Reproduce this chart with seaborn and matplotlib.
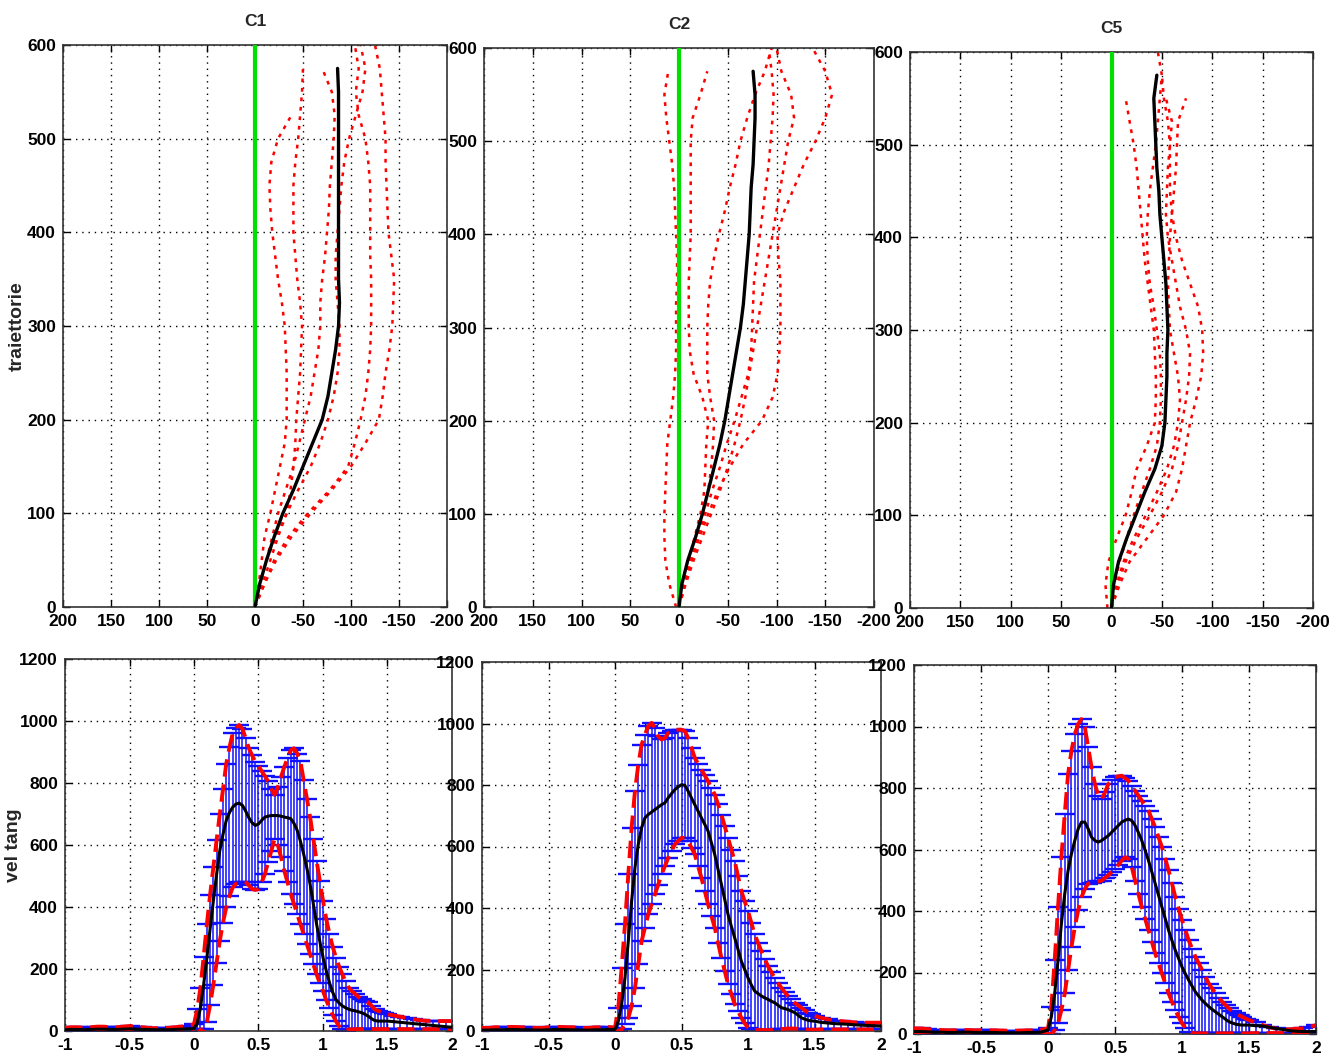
import numpy as np
import matplotlib
matplotlib.use("Agg")
import matplotlib.pyplot as plt
import seaborn as sns

sns.set_style("ticks")
plt.rcParams['font.family'] = ['Liberation Sans Narrow', 'Liberation Sans', 'DejaVu Sans']
plt.rcParams['font.weight'] = 'bold'
plt.rcParams['axes.unicode_minus'] = False

# ---- traiettorie: x (lateral) sampled at y = 0, 25, 50, ...
traj_y = np.arange(0, 601, 25)

c1_mean = [0, -5, -12, -20, -29, -40, -50, -60, -70, -76, -80, -84, -87, -88, -87, -87, -87,
           -87, -87, -87, -87, -87, -87, -86]
c1_trials = [
    [0, -4, -7, -10, -16, -21, -26, -31, -33, -33, -33, -32, -31, -28, -24, -21, -18, -16, -15, -17, -24, -38],
    [0, -5, -12, -22, -33, -37, -40, -42, -43, -45, -47, -48, -49, -47, -44, -42, -40, -40, -40, -42, -45, -47,
     -49, -50],
    [0, -6, -12, -18, -24, -32, -40, -46, -52, -58, -62, -66, -68, -68, -70, -73, -75, -77, -78, -80, -82, -83,
     -80, -70],
    [0, -8, -16, -24, -33, -45, -58, -68, -76, -82, -86, -88, -88, -86, -84, -84, -86, -88, -90, -93, -98, -105,
     -112, -115, -110],
    [0, -10, -20, -35, -55, -78, -97, -104, -110, -115, -118, -120, -121, -121, -121, -120, -120, -120, -120,
     -118, -115, -108, -105, -108, -104],
    [0, -10, -22, -38, -58, -80, -100, -115, -129, -133, -136, -140, -143, -144, -145, -142, -139, -138, -137,
     -136, -136, -134, -132, -130, -125],
]

c2_mean = [0, -3, -9, -17, -24, -30, -36, -42, -47, -51, -55, -59, -63, -66, -68, -70, -72, -73, -74, -76,
           -77, -78, -78, -76]
c2_trials = [
    [3, 10, 14, 15, 15, 14, 13, 12, 9, 6, 4, 3, 3, 3, 2, 2, 3, 4, 5, 7, 10, 13, 15, 11],
    [0, -4, -10, -16, -22, -26, -27, -28, -30, -24, -15, -11, -10, -10, -10, -11, -12, -12, -12, -12, -12, -14,
     -22, -29],
    [0, -5, -12, -19, -25, -30, -33, -35, -36, -32, -29, -29, -29, -30, -32, -36, -41, -47, -52, -58, -63, -70,
     -78, -88, -95],
    [0, -6, -13, -20, -27, -34, -42, -49, -57, -64, -71, -74, -75, -76, -77, -80, -83, -86, -89, -92, -94, -96,
     -97, -95, -92],
    [0, -6, -13, -21, -30, -40, -52, -66, -85, -96, -101, -103, -104, -104, -104, -102, -101, -108, -118, -128,
     -140, -150, -157, -150, -137],
    [0, -7, -15, -24, -33, -42, -50, -57, -63, -68, -72, -76, -80, -84, -88, -92, -96, -100, -104, -108, -112,
     -118, -115, -105, -100],
]

c5_mean = [0, -2, -7, -15, -24, -33, -43, -50, -53, -54, -55, -55, -56, -55, -54, -52, -50, -48, -47, -45,
           -44, -43, -42, -45]
c5_trials = [
    [4, 6, 3, -5, -14, -20, -25, -35, -43, -44, -44, -43, -42, -39, -36, -33, -31, -29, -27, -25, -22, -18, -14],
    [0, -5, -12, -22, -34, -45, -55, -62, -66, -68, -66, -62, -58, -57, -56, -57, -58, -60, -62, -64, -65, -66,
     -74],
    [0, -8, -18, -35, -52, -64, -70, -74, -78, -84, -89, -91, -90, -86, -78, -70, -64, -60, -58, -58, -58, -56,
     -52, -50],
    [0, -3, -8, -15, -22, -30, -38, -45, -48, -49, -49, -48, -45, -42, -38, -36, -35, -36, -38, -41, -44, -46,
     -48, -50, -46],
    [0, -6, -14, -25, -38, -50, -60, -66, -70, -74, -77, -78, -74, -68, -64, -60, -56, -54, -55, -56, -58, -60,
     -54],
]

# ---- vel tang: time samples
t = np.round(np.concatenate([np.arange(-1, -0.001, 0.05),
                             np.arange(0, 1.5001, 0.025),
                             np.arange(1.55, 2.0001, 0.05)]), 3)

v1_mean = ([4, 5, 5, 4, 5, 6, 6, 5, 5, 6, 7, 6, 5, 5, 4, 4, 4, 5, 6, 7] +
           [8, 25, 75, 150, 237, 330, 420, 505, 582, 635, 679, 705, 722, 732, 735, 728, 710, 688, 672, 663,
            668, 680, 690, 693, 695, 695, 695, 693, 690, 688, 685, 670, 647, 612, 571, 525, 474, 410, 345, 290,
            237, 195, 156, 125, 102, 90, 81, 75, 70, 67, 65, 62, 59, 54, 48, 40, 34, 32, 32, 32, 32] +
           [30, 28, 26, 24, 22, 20, 18, 16, 14, 12])
v1_up = ([10, 12, 12, 10, 12, 14, 14, 12, 12, 14, 16, 14, 12, 10, 9, 9, 10, 12, 14, 16] +
         [22, 70, 140, 240, 345, 440, 528, 615, 700, 780, 862, 915, 960, 978, 987, 975, 945, 912, 890, 868,
          855, 838, 822, 805, 780, 762, 787, 820, 852, 880, 906, 912, 895, 870, 809, 750, 690, 620, 550, 485,
          420, 362, 313, 272, 237, 208, 183, 160, 140, 128, 119, 110, 102, 97, 92, 82, 70, 65, 62, 58, 54] +
         [50, 46, 42, 38, 35, 33, 32, 32, 32, 32])
v1_low = ([0, 0, 0, 0, 0, 0, 0, 0, 0, 0, 0, 0, 0, 0, 0, 0, 0, 0, 0, 0] +
          [-5, -15, 5, 5, 30, 85, 150, 220, 291, 350, 399, 435, 463, 475, 480, 482, 480, 470, 458, 455,
           458, 480, 507, 545, 582, 620, 600, 560, 517, 480, 442, 410, 377, 345, 313, 280, 248, 215, 183, 155,
           129, 100, 75, 52, 32, 15, 5, 0, 5, 5, 6, 6, 6, 6, 6, 6, 6, 6, 6, 6, 6] +
          [6, 6, 6, 6, 6, 6, 6, 6, 6, 6])

v2_mean = ([3, 3, 4, 4, 5, 5, 4, 4, 3, 3, 4, 5, 5, 4, 4, 3, 3, 4, 4, 5] +
           [5, 32, 87, 173, 292, 422, 531, 607, 661, 693, 704, 712, 720, 728, 736, 742, 758, 772, 785, 794,
            801, 799, 780, 758, 736, 715, 693, 672, 650, 612, 574, 525, 477, 428, 379, 340, 303, 265, 227, 200,
            173, 150, 130, 122, 114, 108, 103, 97, 92, 84, 76, 73, 70, 65, 60, 52, 43, 39, 35, 33, 32] +
           [28, 26, 24, 23, 22, 20, 19, 18, 17, 16])
v2_up = ([10, 10, 12, 12, 13, 13, 12, 12, 10, 10, 12, 13, 13, 12, 12, 10, 10, 12, 12, 13] +
         [11, 76, 206, 347, 509, 661, 780, 866, 931, 964, 991, 1002, 986, 958, 948, 953, 969, 975, 980, 980,
          980, 975, 953, 921, 888, 869, 850, 831, 812, 790, 769, 737, 704, 666, 628, 590, 552, 503, 455, 422,
          390, 352, 314, 287, 260, 235, 211, 192, 173, 157, 141, 127, 114, 103, 92, 84, 76, 68, 60, 54, 49] +
         [43, 38, 34, 32, 30, 28, 27, 27, 27, 27])
v2_low = ([0, 0, 0, 0, 0, 0, 0, 0, 0, 0, 0, 0, 0, 0, 0, 0, 0, 0, 0, 0] +
          [0, 0, 5, 22, 43, 81, 141, 217, 292, 336, 379, 412, 444, 476, 509, 536, 563, 585, 607, 618,
           628, 628, 617, 596, 574, 536, 498, 455, 412, 374, 336, 287, 238, 195, 152, 120, 87, 65, 43, 25,
           11, 5, 3, 3, 3, 3, 3, 3, 4, 5, 6, 7, 8, 8, 8, 7, 6, 5, 4, 4, 4] +
          [5, 5, 5, 5, 5, 5, 5, 5, 5, 5])

v5_mean = ([8, 8, 7, 6, 6, 5, 5, 6, 6, 5, 5, 5, 5, 4, 4, 4, 4, 5, 5, 6] +
           [13, 56, 132, 240, 359, 456, 532, 586, 629, 667, 689, 689, 667, 640, 629, 624, 629, 637, 645, 656,
            667, 678, 689, 695, 699, 694, 678, 655, 629, 597, 564, 527, 489, 451, 413, 375, 337, 304, 272, 245,
            218, 196, 175, 156, 137, 123, 110, 99, 89, 80, 72, 64, 56, 48, 40, 36, 32, 30, 29, 29, 29] +
           [27, 26, 22, 18, 15, 11, 9, 8, 8, 8])
v5_up = ([18, 18, 16, 14, 13, 12, 12, 13, 13, 12, 12, 12, 12, 11, 11, 11, 11, 12, 12, 14] +
         [18, 89, 240, 413, 575, 716, 845, 921, 975, 1008, 1024, 997, 932, 867, 813, 775, 764, 786, 813, 825,
          835, 838, 840, 832, 824, 808, 791, 775, 759, 743, 726, 699, 672, 640, 608, 570, 532, 490, 445, 408,
          370, 338, 305, 278, 251, 230, 208, 186, 164, 148, 132, 118, 105, 94, 83, 75, 67, 61, 56, 50, 45] +
         [38, 29, 22, 18, 15, 15, 17, 18, 22, 29])
v5_low = ([0, 0, 0, 0, 0, 0, 0, 0, 0, 0, 0, 0, 0, 0, 0, 0, 0, 0, 0, 0] +
          [0, 0, 13, 35, 78, 132, 208, 283, 348, 402, 445, 472, 489, 492, 494, 496, 499, 508, 516, 527,
           537, 550, 564, 575, 570, 543, 499, 456, 413, 375, 337, 300, 262, 230, 197, 165, 132, 105, 78, 55,
           35, 20, 8, 3, 2, 2, 2, 2, 2, 2, 2, 2, 2, 2, 2, 2, 2, 2, 2, 2, 2] +
          [3, 3, 3, 3, 3, 3, 3, 3, 3, 3])

titles = ["C1", "C2", "C5"]
traj_means = [c1_mean, c2_mean, c5_mean]
traj_trials = [c1_trials, c2_trials, c5_trials]
vel_data = [(v1_mean, v1_up, v1_low), (v2_mean, v2_up, v2_low), (v5_mean, v5_up, v5_low)]

W, H = 1339, 1061
fig = plt.figure(figsize=(W / 100, H / 100), dpi=100)

def px_axes(l, r, top, bot):
    return fig.add_axes([l / W, 1 - bot / H, (r - l) / W, (bot - top) / H])

top_boxes = [(63, 447, 45, 607), (484, 874, 48, 607), (910, 1313, 52, 608)]
bot_boxes = [(65, 452, 659, 1031), (482, 881, 662, 1031), (914, 1316, 665, 1034)]


def style_axes(ax):
    ax.tick_params(direction='in', top=True, right=True, length=5, width=1,
                   labelsize=12.5, pad=5, colors='black')
    ax.grid(True, linestyle=(0, (1, 3.5)), color='black', linewidth=1.0)
    for s in ax.spines.values():
        s.set_color('#333333')
        s.set_linewidth(1.2)
    ax.set_xlabel('')
    ax.set_ylabel('')


for i in range(3):
    # ---- top: trajectories
    ax = px_axes(*top_boxes[i])
    for tr in traj_trials[i]:
        sns.lineplot(x=tr, y=traj_y[:len(tr)], sort=False, estimator=None, ax=ax,
                     color='red', linewidth=1.8, linestyle=(0, (1.5, 2.3)))
    ax.axvline(0, color='#00e000', linewidth=3, zorder=3)
    m = traj_means[i]
    sns.lineplot(x=m, y=traj_y[:len(m)], sort=False, estimator=None, ax=ax,
                 color='black', linewidth=2.4, zorder=4)
    ax.set_xlim(200, -200)
    ax.set_ylim(0, 600)
    ax.set_xticks(np.arange(-200, 201, 50))
    ax.set_yticks(np.arange(0, 601, 100))
    style_axes(ax)
    ax.set_title(titles[i], fontsize=12.5, fontweight='bold', pad=14)
    if i == 0:
        ax.set_ylabel('traiettorie', fontsize=14, fontweight='bold')
        ax.yaxis.set_label_coords(-0.097, 0.5)

    # ---- bottom: velocity with error bars
    ax = px_axes(*bot_boxes[i])
    mean, up, low = (np.array(a, dtype=float) for a in vel_data[i])
    ax.errorbar(t, mean, yerr=[mean - low, up - mean], fmt='none', ecolor='#1010ff',
                elinewidth=1.1, capsize=7.5, capthick=1.7, zorder=2)
    sns.lineplot(x=t, y=up, ax=ax, color='red', linewidth=2.8,
                 linestyle=(0, (4.5, 2)), zorder=3)
    sns.lineplot(x=t, y=low, ax=ax, color='red', linewidth=2.8,
                 linestyle=(0, (4.5, 2)), zorder=3)
    sns.lineplot(x=t, y=mean, ax=ax, color='black', linewidth=2.2, zorder=4)
    ax.set_xlim(-1, 2)
    ax.set_ylim(0, 1200)
    ax.set_xticks([-1, -0.5, 0, 0.5, 1, 1.5, 2])
    ax.set_xticklabels(['-1', '-0.5', '0', '0.5', '1', '1.5', '2'])
    ax.set_yticks(np.arange(0, 1201, 200))
    style_axes(ax)
    if i == 0:
        ax.set_ylabel('vel tang', fontsize=14, fontweight='bold')
        ax.yaxis.set_label_coords(-0.112, 0.5)

fig.savefig('out.png', dpi=100, facecolor='white')
